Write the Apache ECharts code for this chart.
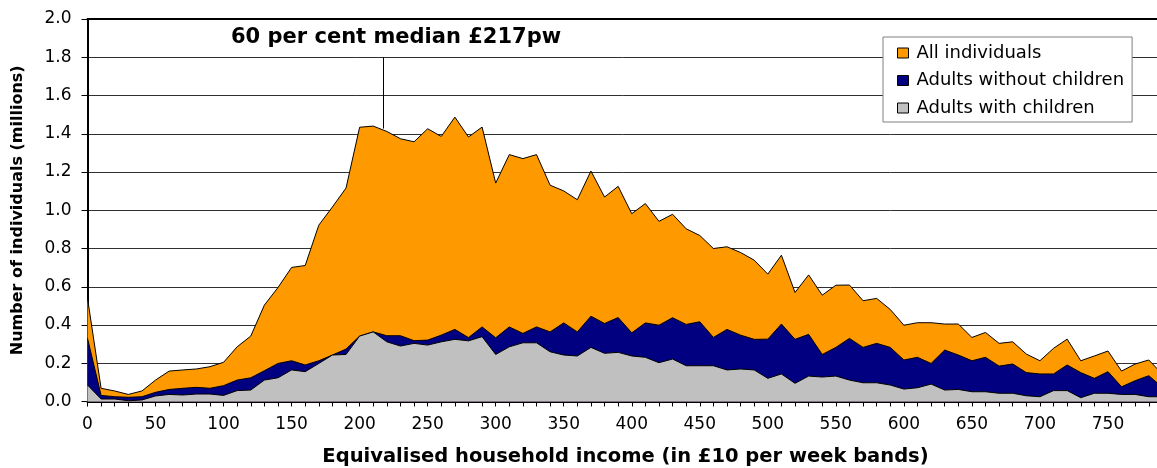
<!DOCTYPE html>
<html>
<head>
<meta charset="utf-8">
<script src="https://cdn.jsdelivr.net/npm/echarts@6/dist/echarts.min.js"></script>
<style>
html,body{margin:0;padding:0;background:#fff;}
#chart{width:1157px;height:468px;}
</style>
</head>
<body>
<div id="chart"></div>
<script>
// Income bands (£ per week, £10 bands)
var incomeBands = [0,10,20,30,40,50,60,70,80,90,100,110,120,130,140,150,160,170,180,190,
  200,210,220,230,240,250,260,270,280,290,300,310,320,330,340,350,360,370,380,390,
  400,410,420,430,440,450,460,470,480,490,500,510,520,530,540,550,560,570,580,590,
  600,610,620,630,640,650,660,670,680,690,700,710,720,730,740,750,760,770,780,790];

// Millions of individuals
var allIndividuals = [0.54,0.069,0.055,0.037,0.055,0.112,0.159,0.165,0.170,0.182,
  0.205,0.286,0.342,0.504,0.596,0.701,0.711,0.922,1.017,1.116,
  1.434,1.440,1.412,1.374,1.358,1.426,1.386,1.487,1.383,1.435,
  1.142,1.291,1.270,1.291,1.131,1.101,1.055,1.205,1.069,1.125,
  0.982,1.035,0.942,0.979,0.903,0.868,0.800,0.809,0.779,0.739,
  0.666,0.765,0.570,0.662,0.556,0.608,0.609,0.527,0.539,0.481,
  0.399,0.412,0.412,0.405,0.405,0.335,0.361,0.304,0.312,0.248,
  0.213,0.278,0.326,0.213,0.238,0.264,0.159,0.196,0.217,0.143];

var adultsWithoutChildren = [0.33,0.032,0.025,0.022,0.025,0.048,0.063,0.069,0.074,0.069,
  0.083,0.112,0.124,0.161,0.199,0.213,0.191,0.213,0.243,0.274,
  0.342,0.364,0.344,0.344,0.318,0.321,0.347,0.377,0.334,0.390,
  0.333,0.390,0.356,0.390,0.364,0.411,0.364,0.446,0.408,0.439,
  0.359,0.411,0.399,0.438,0.403,0.417,0.335,0.377,0.347,0.325,
  0.326,0.405,0.325,0.351,0.246,0.283,0.330,0.283,0.304,0.283,
  0.217,0.231,0.199,0.269,0.243,0.213,0.231,0.185,0.196,0.151,
  0.144,0.144,0.191,0.151,0.121,0.156,0.077,0.109,0.135,0.074];

var adultsWithChildren = [0.086,0.013,0.013,0.004,0.008,0.029,0.037,0.034,0.039,0.039,
  0.032,0.057,0.060,0.112,0.124,0.165,0.156,0.199,0.243,0.246,
  0.342,0.364,0.312,0.290,0.304,0.295,0.312,0.325,0.317,0.339,
  0.246,0.286,0.307,0.307,0.260,0.243,0.238,0.283,0.252,0.257,
  0.238,0.231,0.203,0.222,0.187,0.187,0.187,0.165,0.170,0.165,
  0.121,0.144,0.095,0.133,0.128,0.133,0.112,0.098,0.098,0.086,
  0.065,0.072,0.091,0.060,0.063,0.051,0.051,0.043,0.043,0.030,
  0.025,0.057,0.057,0.020,0.043,0.043,0.037,0.037,0.025,0.025];

var seriesNames = ['All individuals','Adults without children','Adults with children'];
var seriesColors = ['#FF9900','#000080','#C0C0C0'];
var medianLabel = '60 per cent median £217pw';
var medianValue = 217;
var medianLineTop = 1.8;
var medianLineBottom = 1.427;
var xAxisTitle = 'Equivalised household income (in £10 per week bands)';
var yAxisTitle = 'Number of individuals (millions)';

function pairs(vals){ return incomeBands.map(function(x,i){ return [x, vals[i]]; }); }

var FONT = 'DejaVu Sans';
var chart = echarts.init(document.getElementById('chart'), null, {renderer:'canvas'});

function areaSeries(idx, vals, extra){
  var s = {
    name: seriesNames[idx],
    type: 'line',
    data: pairs(vals),
    showSymbol: false,
    symbol: 'none',
    lineStyle: {color:'#000', width:1},
    itemStyle: {color: seriesColors[idx]},
    areaStyle: {color: seriesColors[idx], opacity:1},
    z: 2 + idx,
    silent: true
  };
  if (extra) for (var k in extra) s[k] = extra[k];
  return s;
}

var option = {
  animation: false,
  backgroundColor: '#fff',
  textStyle: {fontFamily: FONT, color:'#000'},
  title: {
    text: medianLabel,
    left: 231, top: 27, padding: 0,
    textStyle: {fontFamily: FONT, fontWeight:'bold', fontSize:21, color:'#000'}
  },
  legend: {
    orient: 'vertical',
    left: 883, top: 37,
    padding: [7, 8, 5, 14],
    itemGap: 9.5,
    itemWidth: 11, itemHeight: 10,
    icon: 'rect',
    backgroundColor: '#fff',
    borderColor: '#808080', borderWidth: 1,
    textStyle: {fontFamily: FONT, fontSize: 18, color:'#000', padding:[0,0,0,3]},
    itemStyle: {borderColor:'#000', borderWidth:1},
    data: seriesNames.map(function(n,i){
      return {name:n, itemStyle:{color:seriesColors[i], borderColor:'#000', borderWidth:1}};
    }),
    z: 10
  },
  grid: {left: 87.5, top: 19, width: 1088.5, height: 382.5, containLabel: false, outerBoundsMode: 'none'},
  xAxis: [{
    type: 'value',
    min: 0, max: 800, interval: 10,
    name: xAxisTitle,
    nameLocation: 'middle',
    nameGap: 45,
    nameTextStyle: {fontFamily: FONT, fontWeight:'bold', fontSize:19.5, color:'#000', padding:[0,12.5,0,0]},
    axisLine: {show:true, lineStyle:{color:'#000', width:2}},
    axisTick: {show:true, length:5, lineStyle:{color:'#000', width:1}},
    axisLabel: {
      fontFamily: FONT, fontSize:17, color:'#000', margin: 15,
      showMaxLabel: false,
      formatter: function(v){ return (v % 50 === 0) ? String(v) : ''; }
    },
    splitLine: {show:false}
  },{
    type: 'value',
    position: 'top',
    min: 0, max: 800,
    axisLine: {show:true, onZero:false, lineStyle:{color:'#000', width:2}},
    axisTick: {show:false},
    axisLabel: {show:false},
    splitLine: {show:false}
  }],
  yAxis: {
    type: 'value',
    min: 0, max: 2, interval: 0.2,
    name: yAxisTitle,
    nameLocation: 'middle',
    nameGap: 62,
    nameRotate: 90,
    nameTextStyle: {fontFamily: FONT, fontWeight:'bold', fontSize:16, color:'#000'},
    axisLine: {show:true, lineStyle:{color:'#000', width:2}},
    axisTick: {show:true, length:6, lineStyle:{color:'#000', width:1}},
    axisLabel: {
      fontFamily: FONT, fontSize:17, color:'#000', margin: 16,
      formatter: function(v){ return v.toFixed(1); }
    },
    splitLine: {show:true, lineStyle:{color:'#303030', width:1}}
  },
  series: [
    areaSeries(0, allIndividuals, {
      markLine: {
        silent: true,
        symbol: ['none','none'],
        label: {show:false},
        lineStyle: {color:'#000', width:1, type:'solid'},
        data: [[{coord:[medianValue, medianLineTop]},{coord:[medianValue, medianLineBottom]}]]
      }
    }),
    areaSeries(1, adultsWithoutChildren),
    areaSeries(2, adultsWithChildren)
  ]
};
chart.setOption(option);
</script>
</body>
</html>
